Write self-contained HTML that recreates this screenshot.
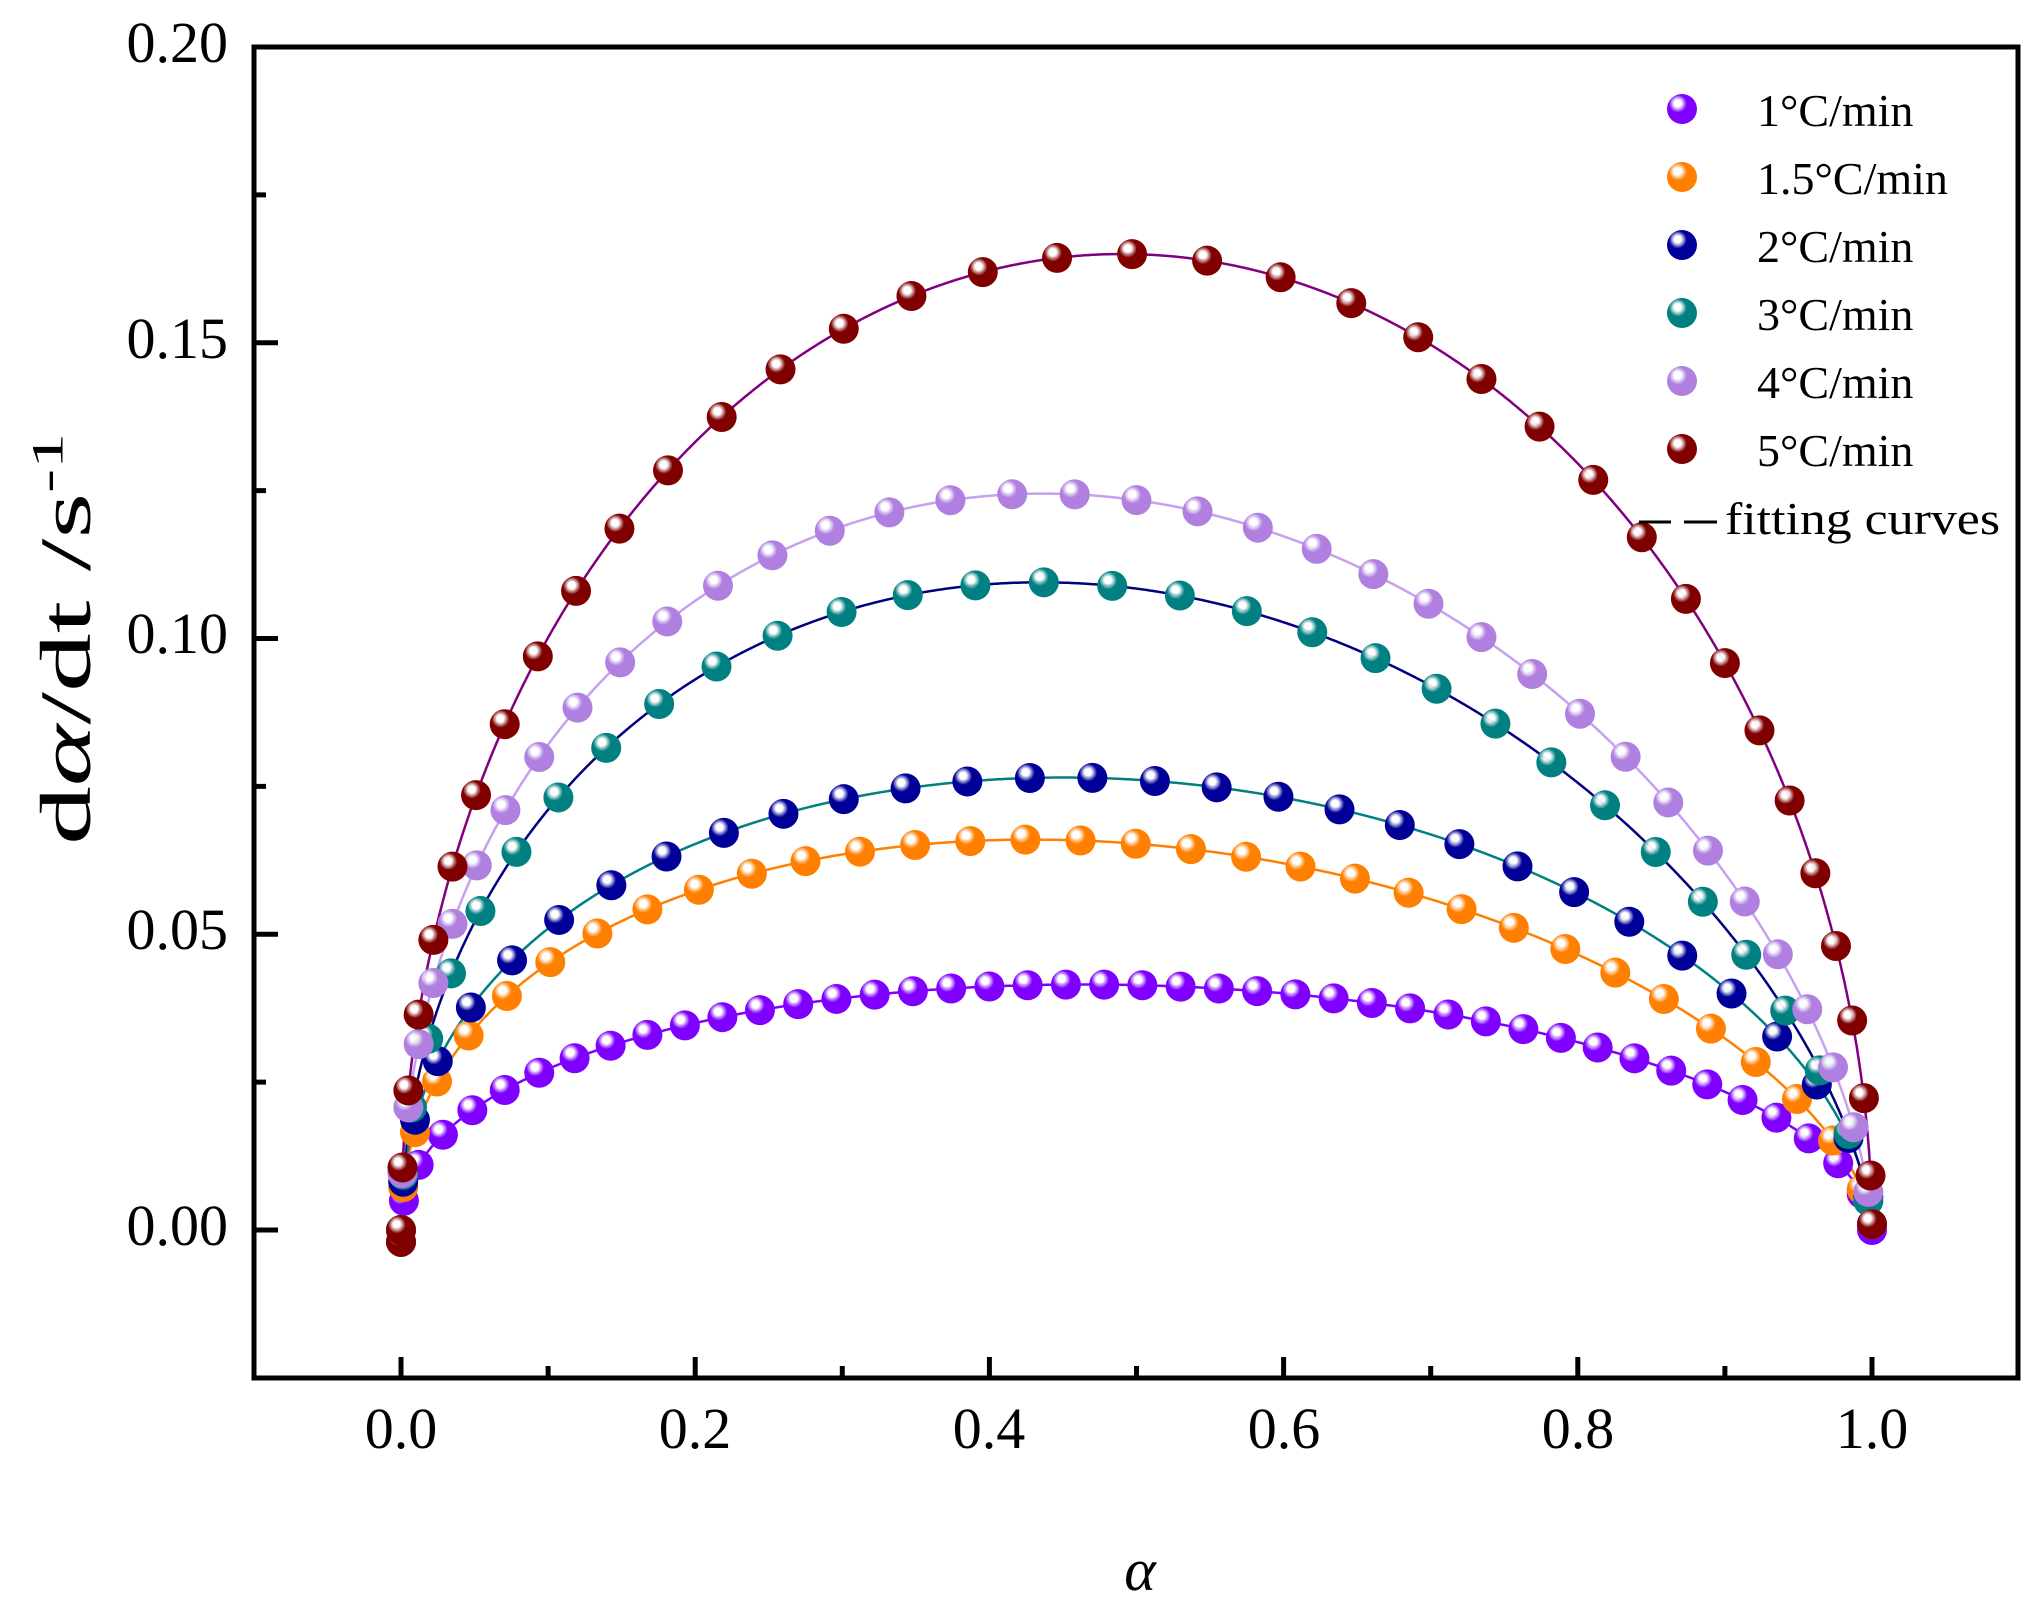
<!DOCTYPE html>
<html><head><meta charset="utf-8"><style>
html,body{margin:0;padding:0;background:#fff;}
svg{display:block;}
text{font-family:"Liberation Serif",serif;fill:#000;}
</style></head><body>
<svg id="s" width="2043" height="1602" viewBox="0 0 2043 1602" xmlns="http://www.w3.org/2000/svg">
<defs id="d"></defs>
<g id="curves"></g>
<g id="pts"></g>
<rect x="254" y="47" width="1764" height="1331" fill="none" stroke="#000" stroke-width="5"/>
<g id="ticks" stroke="#000" stroke-width="5"></g>
<g font-size="58" text-anchor="end">
<text x="228" y="1245">0.00</text>
<text x="228" y="949">0.05</text>
<text x="228" y="653">0.10</text>
<text x="228" y="358">0.15</text>
<text x="228" y="62">0.20</text>
</g>
<g font-size="58" text-anchor="middle">
<text x="401" y="1448">0.0</text>
<text x="695" y="1448">0.2</text>
<text x="989" y="1448">0.4</text>
<text x="1284" y="1448">0.6</text>
<text x="1578" y="1448">0.8</text>
<text x="1872" y="1448">1.0</text>
</g>
<text x="1140" y="1590" font-size="60" text-anchor="middle" font-style="italic">α</text>
<text transform="translate(90,845) rotate(-90)" font-size="72" textLength="412" lengthAdjust="spacingAndGlyphs">d<tspan font-style="italic">α</tspan>/dt /s<tspan font-size="44" dy="-28">-1</tspan></text>
<g id="legend" font-size="46">
<text x="1757" y="126">1°C/min</text>
<text x="1757" y="194">1.5°C/min</text>
<text x="1757" y="262">2°C/min</text>
<text x="1757" y="330">3°C/min</text>
<text x="1757" y="398">4°C/min</text>
<text x="1757" y="466">5°C/min</text>
<line x1="1639" y1="522" x2="1671" y2="522" stroke="#000" stroke-width="3"/>
<line x1="1684" y1="522" x2="1717" y2="522" stroke="#000" stroke-width="3"/>
<text x="1725" y="534" textLength="275" lengthAdjust="spacingAndGlyphs">fitting curves</text>
</g>
</svg>
<script>
var NS="http://www.w3.org/2000/svg";
function X(a){return 401+a*1471;}
function Y(v){return 1230-v*5915;}
function el(t,at,p){var e=document.createElementNS(NS,t);for(var k in at)e.setAttribute(k,at[k]);p.appendChild(e);return e;}
var tk=document.getElementById('ticks');
for(var i=0;i<=10;i++){var a=i*0.1;var L=(i%2==0)?21:12;el('line',{x1:X(a),y1:1378,x2:X(a),y2:1378-L},tk);}
for(var i=-1;i<=8;i++){var v=i*0.025;var L=(i%2==0)?24:12;if(Y(v)>1375||Y(v)<50)continue;el('line',{x1:254,y1:Y(v),x2:254+L,y2:Y(v)},tk);}
var S=[
 {c:'#8000ff',lc:'#8000ff',m:0.45,n:0.52,p:0.0415,sp:38},
 {c:'#ff8000',lc:'#ff8000',m:0.45,n:0.6,p:0.066,sp:55},
 {c:'#000099',lc:'#008080',m:0.45,n:0.55,p:0.0765,sp:62},
 {c:'#008080',lc:'#000080',m:0.5,n:0.65,p:0.1095,sp:68},
 {c:'#b080e0',lc:'#c8a0f0',m:0.48,n:0.62,p:0.1245,sp:62},
 {c:'#800000',lc:'#800080',m:0.5,n:0.52,p:0.165,sp:75}
];
var d=document.getElementById('d'),cg=document.getElementById('curves'),pg=document.getElementById('pts');
function f(s,a){var ap=s.m/(s.m+s.n);var mx=Math.pow(ap,s.m)*Math.pow(1-ap,s.n);return s.p*Math.pow(a,s.m)*Math.pow(1-a,s.n)/mx;}
S.forEach(function(s,i){
 var g=el('radialGradient',{id:'g'+i,cx:'0.38',cy:'0.35',r:'0.65',fx:'0.35',fy:'0.3'},d);
 el('stop',{offset:'0','stop-color':'#fff'},g);
 el('stop',{offset:'0.18','stop-color':'#fff','stop-opacity':'0.9'},g);
 el('stop',{offset:'0.45','stop-color':s.c},g);
 el('stop',{offset:'1','stop-color':s.c},g);
 var pts=[];var N=2000;
 for(var k=0;k<=N;k++){var a=k/N;pts.push([X(a),Y(f(s,a))]);}
 el('polyline',{points:pts.map(function(p){return p[0].toFixed(1)+','+p[1].toFixed(1)}).join(' '),fill:'none',stroke:s.lc,'stroke-width':2.5},cg);
 s.pts=pts;
});
S.forEach(function(s,i){
 var pts=s.pts,acc=s.sp*0.3,list=[[X(0),Y(-0.002)],[X(0),Y(0)]];
 for(var k=1;k<pts.length;k++){var dx=pts[k][0]-pts[k-1][0],dy=pts[k][1]-pts[k-1][1];acc+=Math.sqrt(dx*dx+dy*dy);if(acc>=s.sp){acc=0;list.push(pts[k]);}}
 list.push([X(1),Y(0.001)]);
 list.forEach(function(p){el('circle',{cx:p[0],cy:p[1],r:15,fill:'url(#g'+i+')'},pg);});
 el('circle',{cx:1682,cy:109+i*68,r:15,fill:'url(#g'+i+')'},document.getElementById('legend'));
});
</script>
</body></html>
